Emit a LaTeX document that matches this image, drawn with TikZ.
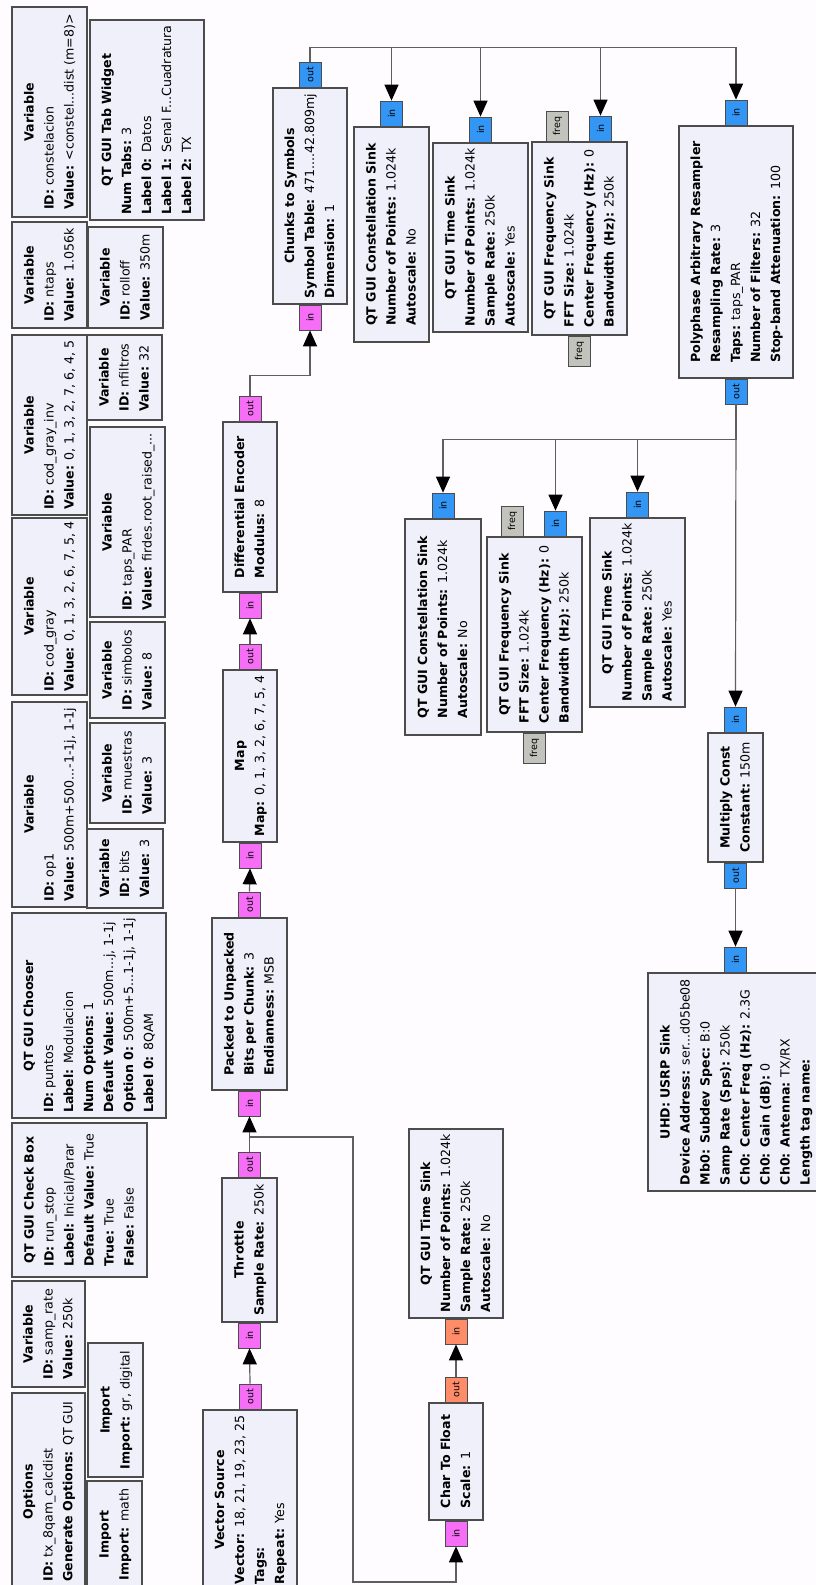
\documentclass[tikz,border=0pt]{standalone}
\usepackage{fontspec}
\setmainfont{DejaVu Sans}
\usetikzlibrary{arrows.meta}

\definecolor{canvas}{RGB}{254,252,254}
\definecolor{blockfill}{RGB}{240,240,250}
\definecolor{bytepink}{RGB}{245,110,245}
\definecolor{cpxblue}{RGB}{51,150,245}
\definecolor{fltorange}{RGB}{255,140,105}
\definecolor{msggray}{RGB}{195,195,190}
\definecolor{wiregray}{RGB}{95,95,95}

% block text: centred bold title, then left-aligned parameter lines
\newcommand{\grctext}[2]{\begin{tabular}{@{}l@{}}\multicolumn{1}{@{}c@{}}{\textbf{#1}}\\#2\end{tabular}}

\begin{document}
\begin{tikzpicture}[
  x=1pt, y=-1pt,
  grcblock/.style={draw=black!70, fill=blockfill, line width=1.1pt, rotate=90, inner sep=0pt,
    font={\fontsize{12.6}{20}\selectfont}},
  port/.style={draw=black!70, line width=0.8pt, rotate=90, inner sep=0pt, minimum width=25pt, minimum height=22pt, font={\fontsize{9.5}{10}\selectfont}},
  byteport/.style={port, fill=bytepink},
  cpxport/.style={port, fill=cpxblue},
  fltport/.style={port, fill=fltorange},
  msgport/.style={port, fill=msggray, minimum width=30pt},
  wire/.style={draw=wiregray, line width=1.2pt, -{Triangle[length=16pt, width=14pt, color=black]}}
]
\useasboundingbox (0,0) rectangle (816,1585);
\clip (0,0) rectangle (816,1585);
\fill[canvas] (0,0) rectangle (816,1585);

% variables, options, imports
\node[grcblock, minimum width=210pt, minimum height=75pt] (vconst) at (49.5,112)
  {\grctext{Variable}{\textbf{ID:} constelacion\\\textbf{Value:} <constel...dist (m=8)>}};
\node[grcblock, minimum width=200pt, minimum height=114pt] (tabs) at (147,120)
  {\grctext{QT GUI Tab Widget}{\textbf{Num Tabs:} 3\\\textbf{Label 0:} Datos\\\textbf{Label 1:} Senal F...Cuadratura\\\textbf{Label 2:} TX}};
\node[grcblock, minimum width=106pt, minimum height=75pt] (vntaps) at (49.5,275)
  {\grctext{Variable}{\textbf{ID:} ntaps\\\textbf{Value:} 1.056k}};
\node[grcblock, minimum width=101pt, minimum height=75pt] (vroll) at (125.5,277.5)
  {\grctext{Variable}{\textbf{ID:} rolloff\\\textbf{Value:} 350m}};
\node[grcblock, minimum width=180pt, minimum height=75pt] (vcodinv) at (49.5,425)
  {\grctext{Variable}{\textbf{ID:} cod\_gray\_inv\\\textbf{Value:} 0, 1, 3, 2, 7, 6, 4, 5}};
\node[grcblock, minimum width=85pt, minimum height=75pt] (vnfilt) at (124.5,377.5)
  {\grctext{Variable}{\textbf{ID:} nfiltros\\\textbf{Value:} 32}};
\node[grcblock, minimum width=190pt, minimum height=75pt] (vtaps) at (127.5,522)
  {\grctext{Variable}{\textbf{ID:} taps\_PAR\\\textbf{Value:} firdes.root\_raised\_...}};
\node[grcblock, minimum width=177pt, minimum height=75pt] (vcod) at (49.5,606.5)
  {\grctext{Variable}{\textbf{ID:} cod\_gray\\\textbf{Value:} 0, 1, 3, 2, 6, 7, 5, 4}};
\node[grcblock, minimum width=96pt, minimum height=75pt] (vsimb) at (127.5,670)
  {\grctext{Variable}{\textbf{ID:} simbolos\\\textbf{Value:} 8}};
\node[grcblock, minimum width=205pt, minimum height=75pt] (vop1) at (49.5,804.5)
  {\grctext{Variable}{\textbf{ID:} op1\\\textbf{Value:} 500m+500...-1-1j, 1-1j}};
\node[grcblock, minimum width=100pt, minimum height=75pt] (vmuest) at (127.5,773)
  {\grctext{Variable}{\textbf{ID:} muestras\\\textbf{Value:} 3}};
\node[grcblock, minimum width=79pt, minimum height=76pt] (vbits) at (125,868.5)
  {\grctext{Variable}{\textbf{ID:} bits\\\textbf{Value:} 3}};
\node[grcblock, minimum width=205pt, minimum height=154pt] (chooser) at (89,1015.5)
  {\grctext{QT GUI Chooser}{\textbf{ID:} puntos\\\textbf{Label:} Modulacion\\\textbf{Num Options:} 1\\\textbf{Default Value:} 500m...j, 1-1j\\\textbf{Option 0:} 500m+5...1-1j, 1-1j\\\textbf{Label 0:} 8QAM}};
\node[grcblock, minimum width=154pt, minimum height=135pt] (chkbox) at (79.5,1200)
  {\grctext{QT GUI Check Box}{\textbf{ID:} run\_stop\\\textbf{Label:} Inicial/Parar\\\textbf{Default Value:} True\\\textbf{True:} True\\\textbf{False:} False}};
\node[grcblock, minimum width=106pt, minimum height=73pt] (vsamp) at (48.5,1334)
  {\grctext{Variable}{\textbf{ID:} samp\_rate\\\textbf{Value:} 250k}};
\node[grcblock, minimum width=197pt, minimum height=73pt] (opts) at (48.5,1491.5)
  {\grctext{Options}{\textbf{ID:} tx\_8qam\_calcdist\\\textbf{Generate Options:} QT GUI}};
\node[grcblock, minimum width=134pt, minimum height=55pt] (impgr) at (115.5,1410)
  {\grctext{Import}{\textbf{Import:} gr, digital}};
\node[grcblock, minimum width=107pt, minimum height=55pt] (impmath) at (114.5,1534.5)
  {\grctext{Import}{\textbf{Import:} math}};

% signal blocks
\node[grcblock, minimum width=180pt, minimum height=94pt] (vsrc) at (250,1500)
  {\grctext{Vector Source}{\textbf{Vector:} 18, 21, 19, 23, 25\\\textbf{Tags:}\\\textbf{Repeat:} Yes}};
\node[grcblock, minimum width=144pt, minimum height=55pt] (thr) at (249.5,1250)
  {\grctext{Throttle}{\textbf{Sample Rate:} 250k}};
\node[grcblock, minimum width=172pt, minimum height=75pt] (packed) at (249.5,1004)
  {\grctext{Packed to Unpacked}{\textbf{Bits per Chunk:} 3\\\textbf{Endianness:} MSB}};
\node[grcblock, minimum width=172pt, minimum height=54pt] (map) at (250,756)
  {\grctext{Map}{\textbf{Map:} 0, 1, 3, 2, 6, 7, 5, 4}};
\node[grcblock, minimum width=170pt, minimum height=54pt] (diff) at (250,507)
  {\grctext{Differential Encoder}{\textbf{Modulus:} 8}};
\node[grcblock, minimum width=216pt, minimum height=74pt] (chunks) at (310,196)
  {\grctext{Chunks to Symbols}{\textbf{Symbol Table:} 471....42.809mj\\\textbf{Dimension:} 1}};
\node[grcblock, minimum width=215pt, minimum height=75pt] (cs1) at (391.5,234.5)
  {\grctext{QT GUI Constellation Sink}{\textbf{Number of Points:} 1.024k\\\textbf{Autoscale:} No}};
\node[grcblock, minimum width=189pt, minimum height=95pt] (ts1) at (480.5,237.5)
  {\grctext{QT GUI Time Sink}{\textbf{Number of Points:} 1.024k\\\textbf{Sample Rate:} 250k\\\textbf{Autoscale:} Yes}};
\node[grcblock, minimum width=193pt, minimum height=95pt] (fs1) at (579.5,238.5)
  {\grctext{QT GUI Frequency Sink}{\textbf{FFT Size:} 1.024k\\\textbf{Center Frequency (Hz):} 0\\\textbf{Bandwidth (Hz):} 250k}};
\node[grcblock, minimum width=252pt, minimum height=114pt] (poly) at (736,252)
  {\grctext{Polyphase Arbitrary Resampler}{\textbf{Resampling Rate:} 3\\\textbf{Taps:} taps\_PAR\\\textbf{Number of Filters:} 32\\\textbf{Stop-band Attenuation:} 100}};
\node[grcblock, minimum width=216pt, minimum height=76pt] (cs2) at (443,627)
  {\grctext{QT GUI Constellation Sink}{\textbf{Number of Points:} 1.024k\\\textbf{Autoscale:} No}};
\node[grcblock, minimum width=195pt, minimum height=95pt] (fs2) at (534.5,634.5)
  {\grctext{QT GUI Frequency Sink}{\textbf{FFT Size:} 1.024k\\\textbf{Center Frequency (Hz):} 0\\\textbf{Bandwidth (Hz):} 250k}};
\node[grcblock, minimum width=189pt, minimum height=95pt] (ts2) at (637.5,612.5)
  {\grctext{QT GUI Time Sink}{\textbf{Number of Points:} 1.024k\\\textbf{Sample Rate:} 250k\\\textbf{Autoscale:} Yes}};
\node[grcblock, minimum width=129pt, minimum height=55pt] (mul) at (735.5,797.5)
  {\grctext{Multiply Const}{\textbf{Constant:} 150m}};
\node[grcblock, minimum width=218pt, minimum height=175pt] (usrp) at (735.5,1082)
  {\grctext{UHD: USRP Sink}{\textbf{Device Address:} ser...d05be08\\\textbf{Mb0: Subdev Spec:} B:0\\\textbf{Samp Rate (Sps):} 250k\\\textbf{Ch0: Center Freq (Hz):} 2.3G\\\textbf{Ch0: Gain (dB):} 0\\\textbf{Ch0: Antenna:} TX/RX\\\textbf{Length tag name:}}};
\node[grcblock, minimum width=117pt, minimum height=54pt] (c2f) at (456,1461.5)
  {\grctext{Char To Float}{\textbf{Scale:} 1}};
\node[grcblock, minimum width=189pt, minimum height=94pt] (ts3) at (456,1223.5)
  {\grctext{QT GUI Time Sink}{\textbf{Number of Points:} 1.024k\\\textbf{Sample Rate:} 250k\\\textbf{Autoscale:} No}};

% ports
\node[byteport, anchor=west] (vsrc-out) at (vsrc.east) {out};
\node[byteport, anchor=east] (thr-in) at (thr.west) {in};
\node[byteport, anchor=west] (thr-out) at (thr.east) {out};
\node[byteport, anchor=east] (packed-in) at (packed.west) {in};
\node[byteport, anchor=west] (packed-out) at (packed.east) {out};
\node[byteport, anchor=east] (map-in) at (map.west) {in};
\node[byteport, anchor=west] (map-out) at (map.east) {out};
\node[byteport, anchor=east] (diff-in) at (diff.west) {in};
\node[byteport, anchor=west] (diff-out) at (diff.east) {out};
\node[byteport, anchor=east] (chunks-in) at (chunks.west) {in};
\node[cpxport, anchor=west] (chunks-out) at (chunks.east) {out};
\node[cpxport, anchor=west] (cs1-in) at (cs1.east) {in};
\node[cpxport, anchor=west] (ts1-in) at (ts1.east) {in};
\node[cpxport, anchor=west] (fs1-in) at ([xshift=21pt]fs1.east) {in};
\node[msgport, anchor=west] (fs1-freqin) at ([xshift=-22pt]fs1.east) {freq};
\node[msgport, anchor=east] (fs1-freqout) at (fs1.west) {freq};
\node[cpxport, anchor=west] (poly-in) at (poly.east) {in};
\node[cpxport, anchor=east] (poly-out) at (poly.west) {out};
\node[cpxport, anchor=west] (cs2-in) at (cs2.east) {in};
\node[cpxport, anchor=west] (fs2-in) at ([xshift=21pt]fs2.east) {in};
\node[msgport, anchor=west] (fs2-freqin) at ([xshift=-22pt]fs2.east) {freq};
\node[msgport, anchor=east] (fs2-freqout) at (fs2.west) {freq};
\node[cpxport, anchor=west] (ts2-in) at (ts2.east) {in};
\node[cpxport, anchor=west] (mul-in) at (mul.east) {in};
\node[cpxport, anchor=east] (mul-out) at (mul.west) {out};
\node[cpxport, anchor=west] (usrp-in) at (usrp.east) {in};
\node[byteport, anchor=east] (c2f-in) at (c2f.west) {in};
\node[fltport, anchor=west] (c2f-out) at (c2f.east) {out};
\node[fltport, anchor=east] (ts3-in) at (ts3.west) {in};

% connections
\draw[wire] (vsrc-out.east) -- (thr-in.west);
\draw[wire] (thr-out.east) -- (packed-in.west);
\draw[wire] (thr-out.east) |- (353,1137) -- (353,1582) -| (c2f-in.west);
\draw[wire] (packed-out.east) -- (map-in.west);
\draw[wire] (map-out.east) -- (diff-in.west);
\draw[wire] (diff-out.east) -- ++(0,-20) -| (chunks-in.west);
\foreach \s in {cs1-in, ts1-in, fs1-in, poly-in}
  \draw[wire] (chunks-out.east) -- ++(0,-14) -| (\s.east);
\foreach \s in {cs2-in, fs2-in, ts2-in}
  \draw[wire] (poly-out.west) -- ++(0,35) -| (\s.east);
\draw[wire] (poly-out.west) -- (mul-in.east);
\draw[wire] (mul-out.west) -- (usrp-in.east);
\draw[wire] (c2f-out.east) -- (ts3-in.west);
\end{tikzpicture}
\end{document}
